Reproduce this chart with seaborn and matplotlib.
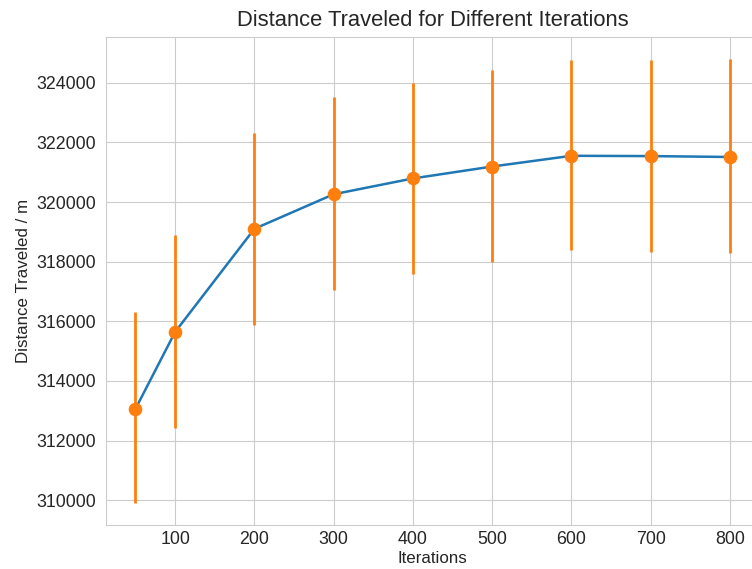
import matplotlib
matplotlib.use("Agg")
import matplotlib.pyplot as plt
import seaborn as sns
import numpy as np

# values
iterations = [50, 100, 200, 300, 400, 500, 600, 700, 800]
distance = [313060, 315640, 319100, 320260, 320790, 321190, 321550, 321540, 321510]
err_low = [3150, 3220, 3210, 3220, 3220, 3200, 3170, 3210, 3220]
err_high = [3250, 3250, 3200, 3250, 3200, 3240, 3200, 3210, 3290]

sns.set_style("whitegrid")
plt.rcParams['font.family'] = ['Liberation Sans', 'DejaVu Sans']

fig = plt.figure(figsize=(7.52, 5.69), dpi=100)
ax = fig.add_axes([0.1406, 0.0773, 0.8697, 0.8582])

# mean line
sns.lineplot(x=iterations, y=distance, color='#1f77b4', linewidth=1.8, ax=ax)

# error bars with markers on top
ax.errorbar(iterations, distance, yerr=[err_low, err_high], fmt='o',
            color='#ff7f0e', markersize=8.8, elinewidth=2.0, zorder=3)

ax.set_title("Distance Traveled for Different Iterations", fontsize=15.8, pad=8)
ax.set_xlabel("Iterations", fontsize=12.2, labelpad=2)
ax.set_ylabel("Distance Traveled / m", fontsize=12.2)
ax.tick_params(axis='both', labelsize=12.8)
ax.tick_params(axis='x', pad=1)
ax.set_xticks([100, 200, 300, 400, 500, 600, 700, 800])
ax.set_yticks(np.arange(310000, 325000, 2000))

fig.savefig("out.png", dpi=100)
